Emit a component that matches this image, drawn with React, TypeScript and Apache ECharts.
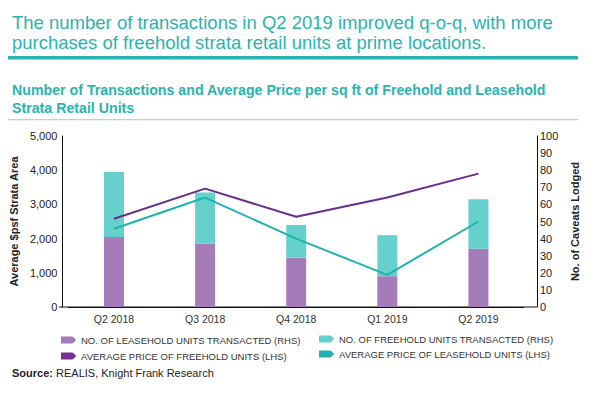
import React, { useEffect, useRef } from "react";
import * as echarts from "echarts";

const categories = ["Q2 2018", "Q3 2018", "Q4 2018", "Q1 2019", "Q2 2019"];
const leaseholdUnits = [41, 37, 29, 18, 34];
const freeholdUnits = [38, 30, 19, 24, 29];
const freeholdPrice = [2580, 3460, 2640, 3200, 3900];
const leaseholdPrice = [2290, 3200, 2000, 940, 2500];

const leftTicks = { min: 0, max: 5000, interval: 1000 };
const rightTicks = { min: 0, max: 100, interval: 10 };

const NAMES = {
  lu: "NO. OF LEASEHOLD UNITS TRANSACTED (RHS)",
  fu: "NO. OF FREEHOLD UNITS TRANSACTED (RHS)",
  fp: "AVERAGE PRICE OF FREEHOLD UNITS (LHS)",
  lp: "AVERAGE PRICE OF LEASEHOLD UNITS (LHS)",
};

const TEAL = "#2ab3b1";
const FONT = "'Liberation Sans', Arial, sans-serif";
const TAG = "path://M0,0 L11,0 Q12,0 13,1 L15,3 Q15.5,3.5 15,4 L13,6 Q12,7 11,7 L0,7 Z";

export default function App() {
  const ref = useRef<HTMLDivElement>(null);
  useEffect(() => {
    if (!ref.current) return;
    const chart = echarts.init(ref.current, null, { renderer: "svg" });
    const legendText = { fontFamily: FONT, fontSize: 9.5, color: "#333" };
    chart.setOption({
      animation: false,
      backgroundColor: "#fff",
      textStyle: { fontFamily: FONT },
      title: [
        {
          text: "The number of transactions in Q2 2019 improved q-o-q, with more\npurchases of freehold strata retail units at prime locations.",
          left: 7,
          top: 8,
          textStyle: { fontFamily: FONT, fontSize: 18.5, fontWeight: "normal", color: TEAL, lineHeight: 19.5 },
        },
        {
          text: "Number of Transactions and Average Price per sq ft of Freehold and Leasehold\nStrata Retail Units",
          left: 7,
          top: 76,
          textStyle: { fontFamily: FONT, fontSize: 14.2, fontWeight: "bold", color: TEAL, lineHeight: 18 },
        },
        {
          text: "{b|Source:} REALIS, Knight Frank Research",
          left: 7,
          top: 362,
          textStyle: {
            fontFamily: FONT,
            fontSize: 11,
            fontWeight: "normal",
            color: "#222",
            rich: { b: { fontFamily: FONT, fontSize: 11, fontWeight: "bold", color: "#222" } },
          },
        },
      ],
      graphic: [
        { type: "rect", shape: { x: 8, y: 56, width: 570, height: 3.5 }, style: { fill: TEAL } },
        { type: "rect", shape: { x: 8, y: 119, width: 570, height: 1.2 }, style: { fill: "#cccccc" } },
        { type: "line", shape: { x1: 59, y1: 307, x2: 537, y2: 307 }, style: { stroke: "#111", lineWidth: 1 } },
      ],
      legend: [
        {
          orient: "vertical",
          left: 56,
          top: 330,
          itemWidth: 15,
          itemHeight: 7,
          itemGap: 6,
          textStyle: legendText,
          data: [
            { name: NAMES.lu, icon: TAG, itemStyle: { color: "#a57bba" } },
            { name: NAMES.fp, icon: TAG, itemStyle: { color: "#7a2f96" } },
          ],
        },
        {
          orient: "vertical",
          left: 314,
          top: 329,
          itemWidth: 15,
          itemHeight: 7,
          itemGap: 5,
          textStyle: legendText,
          data: [
            { name: NAMES.fu, icon: TAG, itemStyle: { color: "#66d1cc" } },
            { name: NAMES.lp, icon: TAG, itemStyle: { color: "#1fb2ae" } },
          ],
        },
      ],
      grid: { left: 65, right: 73, top: 136, bottom: 89, containLabel: false },
      xAxis: {
        type: "category",
        data: categories,
        boundaryGap: true,
        axisLine: { show: true, lineStyle: { color: "#111" } },
        axisTick: { show: false },
        axisLabel: { color: "#333", fontSize: 10.5, fontFamily: FONT, margin: 6 },
      },
      yAxis: [
        {
          type: "value",
          position: "left",
          offset: 6,
          ...leftTicks,
          name: "Average $psf Strata Area",
          nameLocation: "middle",
          nameGap: 36,
          nameTextStyle: { fontFamily: FONT, fontSize: 11, fontWeight: "bold", color: "#222" },
          axisLine: { show: true, lineStyle: { color: "#111" } },
          axisTick: { show: false },
          splitLine: { show: false },
          axisLabel: {
            color: "#222",
            fontSize: 11,
            fontFamily: FONT,
            margin: 5,
            formatter: (v: number) => v.toLocaleString("en-US"),
          },
        },
        {
          type: "value",
          position: "right",
          offset: 13,
          ...rightTicks,
          name: "No. of Caveats Lodged",
          nameLocation: "middle",
          nameGap: 26,
          nameRotate: 90,
          nameTextStyle: { fontFamily: FONT, fontSize: 11, fontWeight: "bold", color: "#222" },
          axisLine: { show: true, lineStyle: { color: "#111" } },
          axisTick: { show: false },
          splitLine: { show: false },
          axisLabel: { color: "#222", fontSize: 11, fontFamily: FONT, margin: 3 },
        },
      ],
      series: [
        {
          name: NAMES.lu,
          type: "bar",
          stack: "units",
          yAxisIndex: 1,
          barWidth: 20,
          data: leaseholdUnits,
          itemStyle: { color: "#a57bba" },
        },
        {
          name: NAMES.fu,
          type: "bar",
          stack: "units",
          yAxisIndex: 1,
          barWidth: 20,
          data: freeholdUnits,
          itemStyle: { color: "#66d1cc" },
        },
        {
          name: NAMES.fp,
          type: "line",
          yAxisIndex: 0,
          data: freeholdPrice,
          symbol: "none",
          lineStyle: { color: "#6b2d8b", width: 2 },
          itemStyle: { color: "#6b2d8b" },
        },
        {
          name: NAMES.lp,
          type: "line",
          yAxisIndex: 0,
          data: leaseholdPrice,
          symbol: "none",
          lineStyle: { color: "#1fb2ae", width: 2 },
          itemStyle: { color: "#1fb2ae" },
        },
      ],
    });
    return () => chart.dispose();
  }, []);
  return (
    <div
      ref={ref}
      style={{ position: "fixed", left: 0, top: 0, width: 597, height: 396, background: "#fff" }}
    />
  );
}
